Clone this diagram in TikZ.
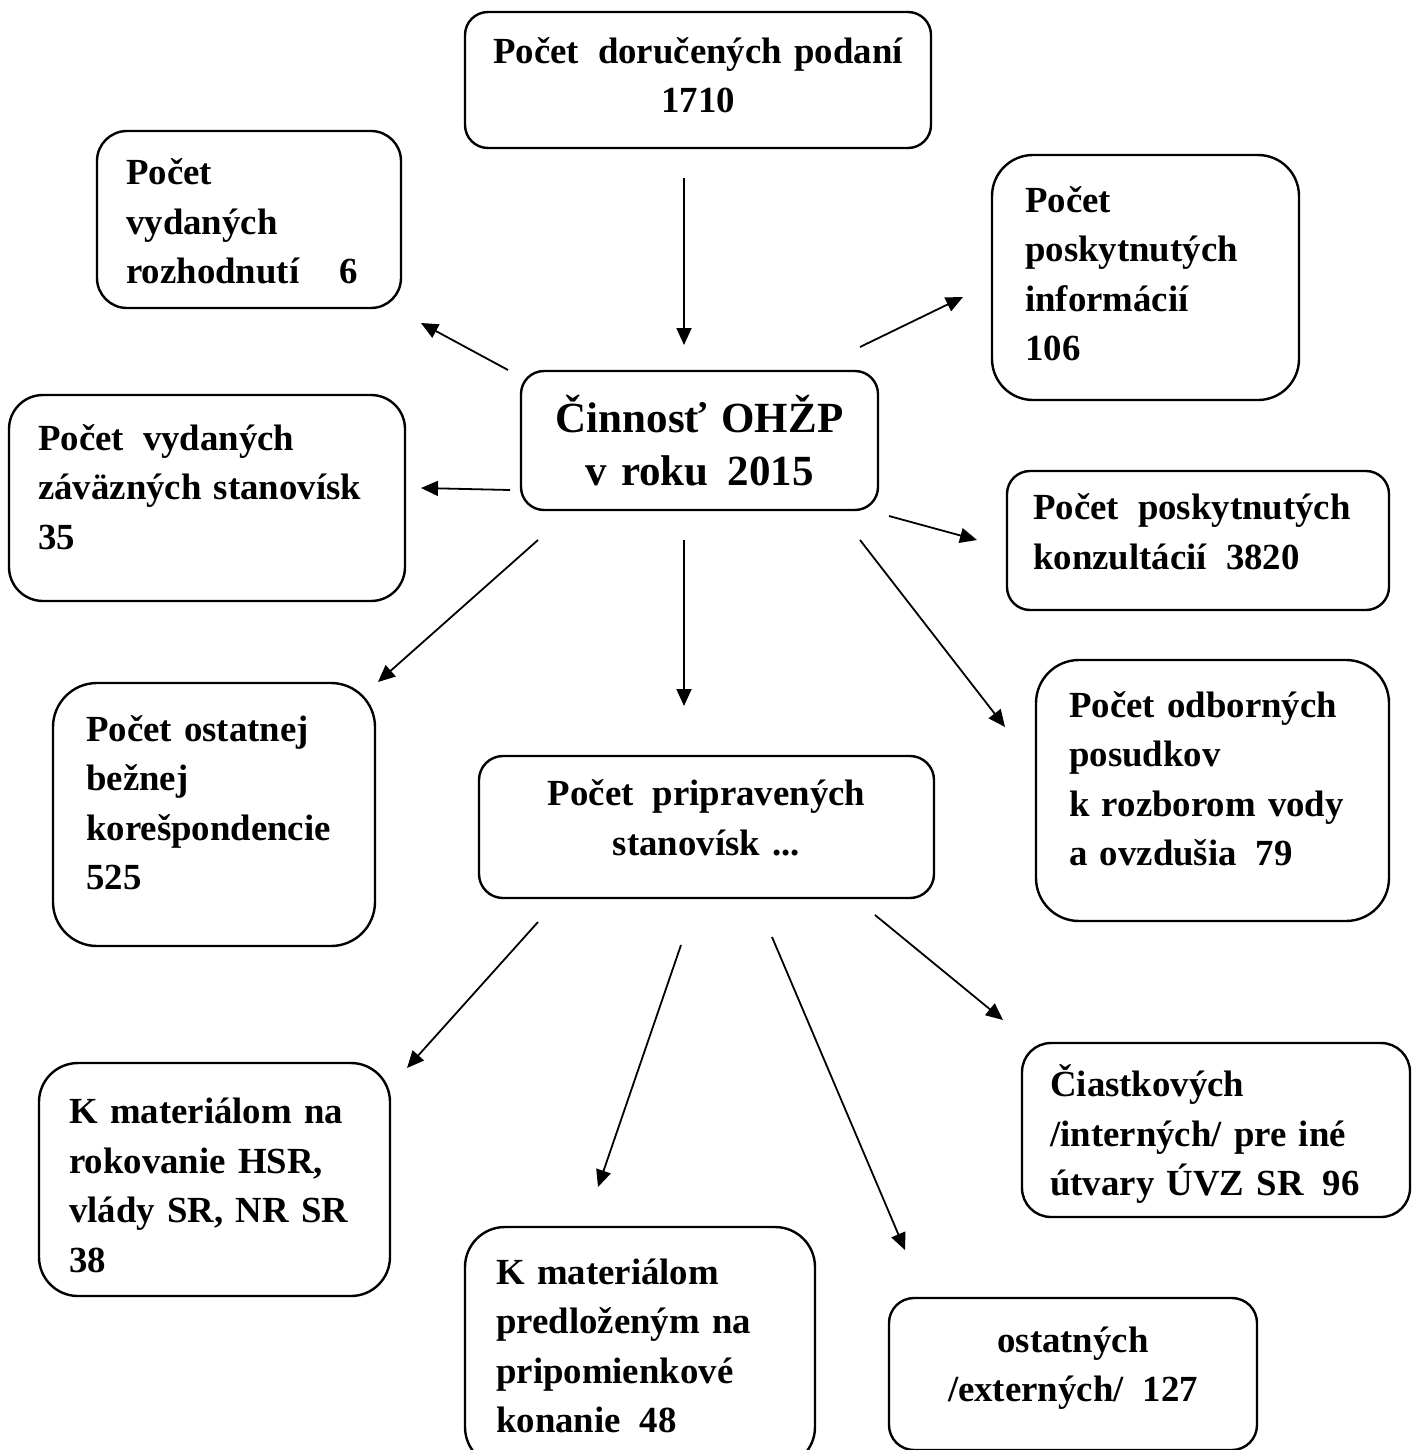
\documentclass[tikz,border=0pt]{standalone}
\usepackage{fontspec}
\setmainfont{Liberation Serif}
\usetikzlibrary{arrows.meta}
\newcommand\dsp{\hspace{19pt}}
\begin{document}
\begin{tikzpicture}[x=1pt,y=-1pt,
  box/.style={draw, line width=2.4pt, inner sep=0pt},
  txt/.style={inner sep=0pt, font=\fontsize{36.8}{49.5}\selectfont\bfseries},
  ltxt/.style={txt, align=left, anchor=west, text width=#1},
  ctxt/.style={txt, align=center, text width=#1},
  conn/.style={line width=1.8pt, -{Triangle[length=17pt,width=15pt]}}]
\useasboundingbox (0,0) rectangle (1418,1450);
% boxes
\node[box, minimum width=466pt, minimum height=136pt, rounded corners=23pt] (b1) at (698,80) {};
\node[box, minimum width=304pt, minimum height=177pt, rounded corners=30pt] (b2) at (249,219.5) {};
\node[box, minimum width=307pt, minimum height=245pt, rounded corners=41pt] (b3) at (1145.5,277.5) {};
\node[box, minimum width=357pt, minimum height=139pt, rounded corners=23pt] (b4) at (699.5,440.5) {};
\node[box, minimum width=396pt, minimum height=206pt, rounded corners=34pt] (b5) at (207,498) {};
\node[box, minimum width=382pt, minimum height=139pt, rounded corners=23pt] (b6) at (1198,540.5) {};
\node[box, minimum width=322pt, minimum height=263pt, rounded corners=44pt] (b7) at (214,814.5) {};
\node[box, minimum width=455pt, minimum height=142pt, rounded corners=24pt] (b8) at (706.5,827) {};
\node[box, minimum width=353pt, minimum height=261pt, rounded corners=43pt] (b9) at (1212.5,790.5) {};
\node[box, minimum width=351pt, minimum height=233pt, rounded corners=39pt] (b10) at (214.5,1179.5) {};
\node[box, minimum width=388pt, minimum height=174pt, rounded corners=29pt] (b11) at (1216,1130) {};
\node[box, minimum width=350pt, minimum height=240pt, rounded corners=40pt] (b12) at (640,1347) {};
\node[box, minimum width=368pt, minimum height=152pt, rounded corners=25pt] (b13) at (1073,1374) {};
% texts
\node[ctxt=446pt] (t1) at (698,75) {Počet\dsp doručených podaní\\1710};
\node[ltxt=260pt] (t2) at (126,221.5) {Počet\\vydaných\\rozhodnutí\hspace{40pt}6};
\node[ltxt=260pt] (t3) at (1025,273.5) {Počet\\poskytnutých\\informácií\\106};
\node[ctxt=337pt, font=\fontsize{43}{53}\selectfont\bfseries] (t4) at (699.5,440.5) {Činnosť OHŽP\\v roku\dsp 2015};
\node[ltxt=340pt] (t5) at (38,487) {Počet\dsp vydaných\\záväzných stanovísk\\35};
\node[ltxt=340pt] (t6) at (1033,531.5) {Počet\dsp poskytnutých\\konzultácií\dsp 3820};
\node[ltxt=270pt] (t7) at (86,802.5) {Počet ostatnej\\bežnej\\korešpondencie\\525};
\node[ctxt=435pt] (t8) at (706.5,818) {Počet\dsp pripravených\\stanovísk ...};
\node[ltxt=300pt] (t9) at (1069,778.5) {Počet odborných\\posudkov\\k rozborom vody\\a ovzdušia\dsp 79};
\node[ltxt=300pt] (t10) at (69,1185.5) {K materiálom na\\rokovanie HSR,\\vlády SR, NR SR\\38};
\node[ltxt=340pt] (t11) at (1050,1134) {Čiastkových\\/interných/ pre iné\\útvary ÚVZ SR\dsp 96};
\node[ltxt=300pt] (t12) at (496,1346) {K materiálom\\predloženým na\\pripomienkové\\konanie\dsp 48};
\node[ctxt=348pt] (t13) at (1073,1368) {ostatných\\/externých/\dsp 127};
% arrow end points
\coordinate (a1s) at (684,178);  \coordinate (a1e) at (684,345);
\coordinate (a2s) at (508,370);  \coordinate (a2e) at (421,323);
\coordinate (a3s) at (860,347);  \coordinate (a3e) at (963,297);
\coordinate (a4s) at (510,490);  \coordinate (a4e) at (421,488);
\coordinate (a5s) at (889,516);  \coordinate (a5e) at (977,540);
\coordinate (a6s) at (538,540);  \coordinate (a6e) at (378,682);
\coordinate (a7s) at (684,540);  \coordinate (a7e) at (684,706);
\coordinate (a8s) at (860,540);  \coordinate (a8e) at (1005,727);
\coordinate (a9s) at (538,922);  \coordinate (a9e) at (407,1068);
\coordinate (a10s) at (681,945); \coordinate (a10e) at (598,1187);
\coordinate (a11s) at (772,937); \coordinate (a11e) at (905,1250);
\coordinate (a12s) at (875,915); \coordinate (a12e) at (1003,1020);
\foreach \i in {1,...,12} {\draw[conn] (a\i s) -- (a\i e);}
\end{tikzpicture}
\end{document}
